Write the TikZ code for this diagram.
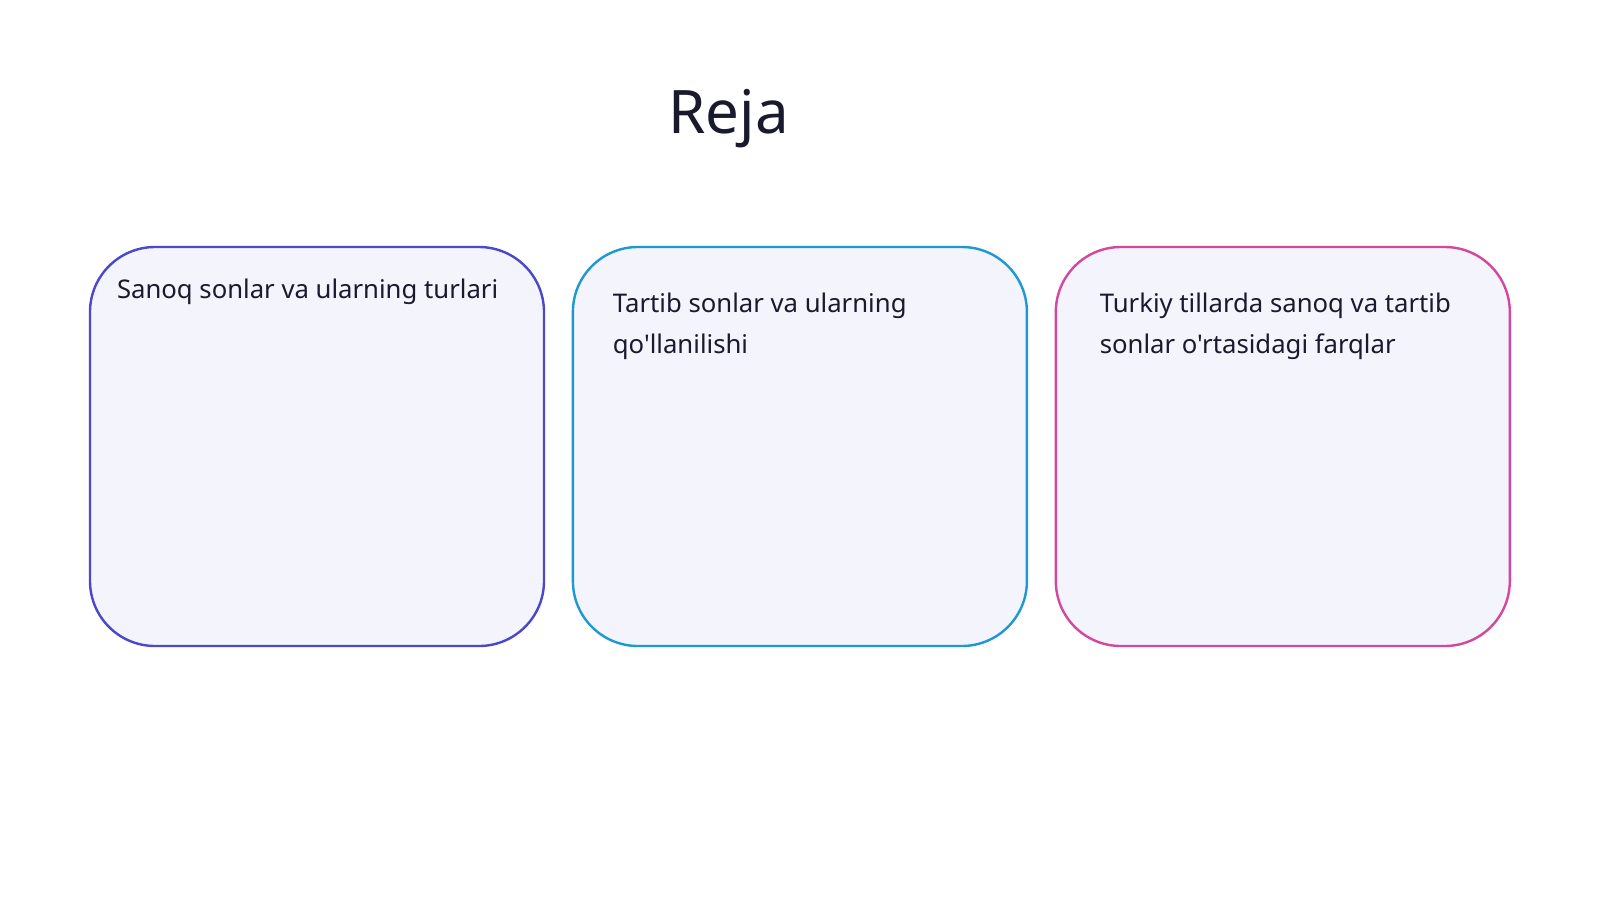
\documentclass[tikz,border=0pt]{standalone}
\usepackage{fontspec}
\newfontfamily\notosans{Noto Sans}
\usepackage{xcolor}
\usetikzlibrary{positioning}

\definecolor{inkdark}{HTML}{1A1A2E}
\definecolor{cardfill}{HTML}{F4F4FC}
\definecolor{edgeone}{HTML}{4B48CC}
\definecolor{edgetwo}{HTML}{1E98D2}
\definecolor{edgethree}{HTML}{D4479C}

\begin{document}
\begin{tikzpicture}[x=1pt,y=1pt,node distance=26.5pt]
\tikzstyle{card}=[rectangle,rounded corners=65pt,line width=2.4pt,fill=cardfill,minimum width=454pt,minimum height=399pt,inner sep=0pt]
\tikzstyle{cardtext}=[anchor=base west,align=left,inner sep=0pt,text=inkdark,font=\notosans\fontsize{25.7}{41}\selectfont]
\fill[white] (0,0) rectangle (1600,-900);
\useasboundingbox (0,0) rectangle (1600,-900);
\node[anchor=base,inner sep=0pt,text=inkdark,font=\notosans\fontsize{60}{64}\selectfont] (title) at (728.5,-133) {Reja};
\node[card,draw=edgeone] (sanoq) at (317,-446.5) {};
\node[card,draw=edgetwo,right=of sanoq] (tartib) {};
\node[card,draw=edgethree,right=of tartib] (turkiy) {};
% two-line texts sit on the baseline of their last line
\node[cardtext] (sanoqtxt) at ([xshift=28pt,yshift=-53pt]sanoq.north west) {Sanoq sonlar va ularning turlari};
\node[cardtext] (tartibtxt) at ([xshift=41pt,yshift=-108pt]tartib.north west) {Tartib sonlar va ularning\\qo'llanilishi};
\node[cardtext] (turkiytxt) at ([xshift=45pt,yshift=-108pt]turkiy.north west) {Turkiy tillarda sanoq va tartib\\sonlar o'rtasidagi farqlar};
\end{tikzpicture}
\end{document}
